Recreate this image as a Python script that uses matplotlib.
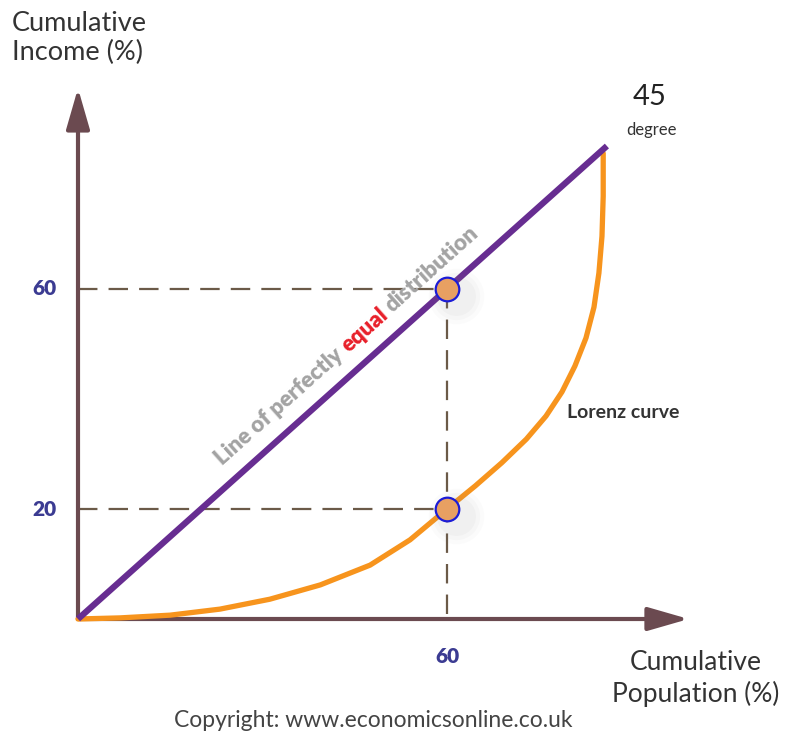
import matplotlib
matplotlib.use("Agg")
import matplotlib.pyplot as plt
import numpy as np

plt.rcParams['lines.scale_dashes'] = False

# --- data (percent) ---
pop_pct = [0, 6.8, 15.0, 23.1, 31.2, 39.4, 47.5, 54.0, 60, 64.6, 68.9, 72.9, 76.1,
           78.7, 80.8, 82.6, 83.9, 84.7, 85.2, 85.4, 85.4]
income_pct = [0, 0.2, 0.7, 1.8, 3.6, 6.2, 9.8, 14.4, 20, 24.2, 28.4, 32.7, 36.9,
              41.3, 46.0, 51.1, 56.7, 62.9, 69.6, 76.9, 84.7]
equal_x = [0, 86]
equal_y = [0, 86]
mark_x = [60, 60]
mark_y = [60, 20]
ytick_vals = [20, 60]
xtick_vals = [60]

axis_col = '#6b4a50'
dash_col = '#6b5a48'
purple = '#672d91'
orange = '#f7941d'
navy = '#3b3b92'
fonts = ['Lato', 'DejaVu Sans']

fig = plt.figure(figsize=(7.86, 7.35), dpi=100)
ax = fig.add_axes([0, 0, 1, 1])
ax.set_xlim(-78 / 6.15, (786 - 78) / 6.15)
ax.set_ylim((619 - 735) / 5.5, 619 / 5.5)
ax.axis('off')

# guide lines
for xv, yv in zip(mark_x, mark_y):
    ax.plot([0, xv], [yv, yv], color=dash_col, lw=1.6, dashes=(14, 8), zorder=1)
ax.plot([mark_x[0], mark_x[0]], [max(mark_y), 0], color=dash_col, lw=1.6, dashes=(14, 8), zorder=1)

# axes arrows
arr = dict(arrowstyle='-|>,head_length=1.25,head_width=0.36', lw=3, color=axis_col,
           mutation_scale=20, shrinkA=0, shrinkB=0)
ax.annotate('', xy=(99.3, 0), xytext=(0, 0), arrowprops=arr, zorder=2)
ax.annotate('', xy=(0, 96.5), xytext=(0, 0), arrowprops=arr, zorder=2)

# curves
ax.plot(pop_pct, income_pct, color=orange, lw=3.8, solid_capstyle='round',
        solid_joinstyle='round', zorder=3)
ax.plot(equal_x, equal_y, color=purple, lw=4.5, solid_capstyle='butt', zorder=4)

# marked points with a soft shadow
for xv, yv in zip(mark_x, mark_y):
    for s, a in [(40, 0.03), (34, 0.04), (28, 0.05)]:
        ax.plot(xv + 1.5, yv - 1.2, 'o', ms=s, color='#888888', alpha=a, mec='none', zorder=5)
    ax.plot(xv, yv, 'o', ms=17, mfc='#e8a062', mec='#1c1cd6', mew=1.6, zorder=6)

# tick labels
for v in ytick_vals:
    ax.text(-5.4, v, str(v), color=navy, fontsize=15, fontweight='heavy', family=fonts,
            ha='center', va='center')
for v in xtick_vals:
    ax.text(v, -6.9, str(v), color=navy, fontsize=15, fontweight='heavy', family=fonts,
            ha='center', va='center')

# axis titles
ax.text(-10.7, (619 - 11) / 5.5, 'Cumulative\nIncome (%)', fontsize=19.5, color='#333333',
        family=fonts, ha='left', va='top', linespacing=1.22)
ax.text(100.5, -10.8, 'Cumulative\nPopulation (%)', fontsize=19, color='#333333', family=fonts,
        ha='center', va='center', linespacing=1.25, multialignment='center')
ax.text(93.0, 94.9, '45', fontsize=21, color='#222222', family=fonts, ha='center', va='center')
ax.text(93.3, 88.9, 'degree', fontsize=12, color='#333333', family=fonts, ha='center', va='center')
ax.text(79.5, 37.5, 'Lorenz curve', fontsize=14, color='#333333', family=fonts,
        fontweight='bold', ha='left', va='center')
ax.text(48, -18.4, 'Copyright: www.economicsonline.co.uk', fontsize=16.5, color='#444444',
        family=fonts, ha='center', va='center')

# rotated label along the equality line, "equal" in red
renderer = fig.canvas.get_renderer()
lab = dict(fontsize=16, fontweight='heavy', family=fonts)


def text_w(s):
    t = ax.text(0, 0, s, **lab)
    w = t.get_window_extent(renderer).width
    t.remove()
    return w


p0 = ax.transData.transform((equal_x[0], equal_y[0]))
p1 = ax.transData.transform((equal_x[1], equal_y[1]))
d = (p1 - p0) / np.hypot(*(p1 - p0))
ang = np.degrees(np.arctan2(d[1], d[0]))
normal = np.array([-d[1], d[0]])
start = p0 + d * 210 + normal * 18

full = 'Line of perfectly equal distribution'
pieces = [('Line of perfectly', 0.0, '#a3a3a3'),
          ('equal', text_w('Line of perfectly equal') - text_w('equal'), '#e8202a'),
          ('distribution', text_w(full) - text_w('distribution'), '#a3a3a3')]
for s, off, c in pieces:
    pos = ax.transData.inverted().transform(start + d * off)
    ax.text(pos[0], pos[1], s, color=c, rotation=ang, rotation_mode='anchor',
            ha='left', va='baseline', zorder=4, **lab)

fig.savefig('out.png', dpi=100)
